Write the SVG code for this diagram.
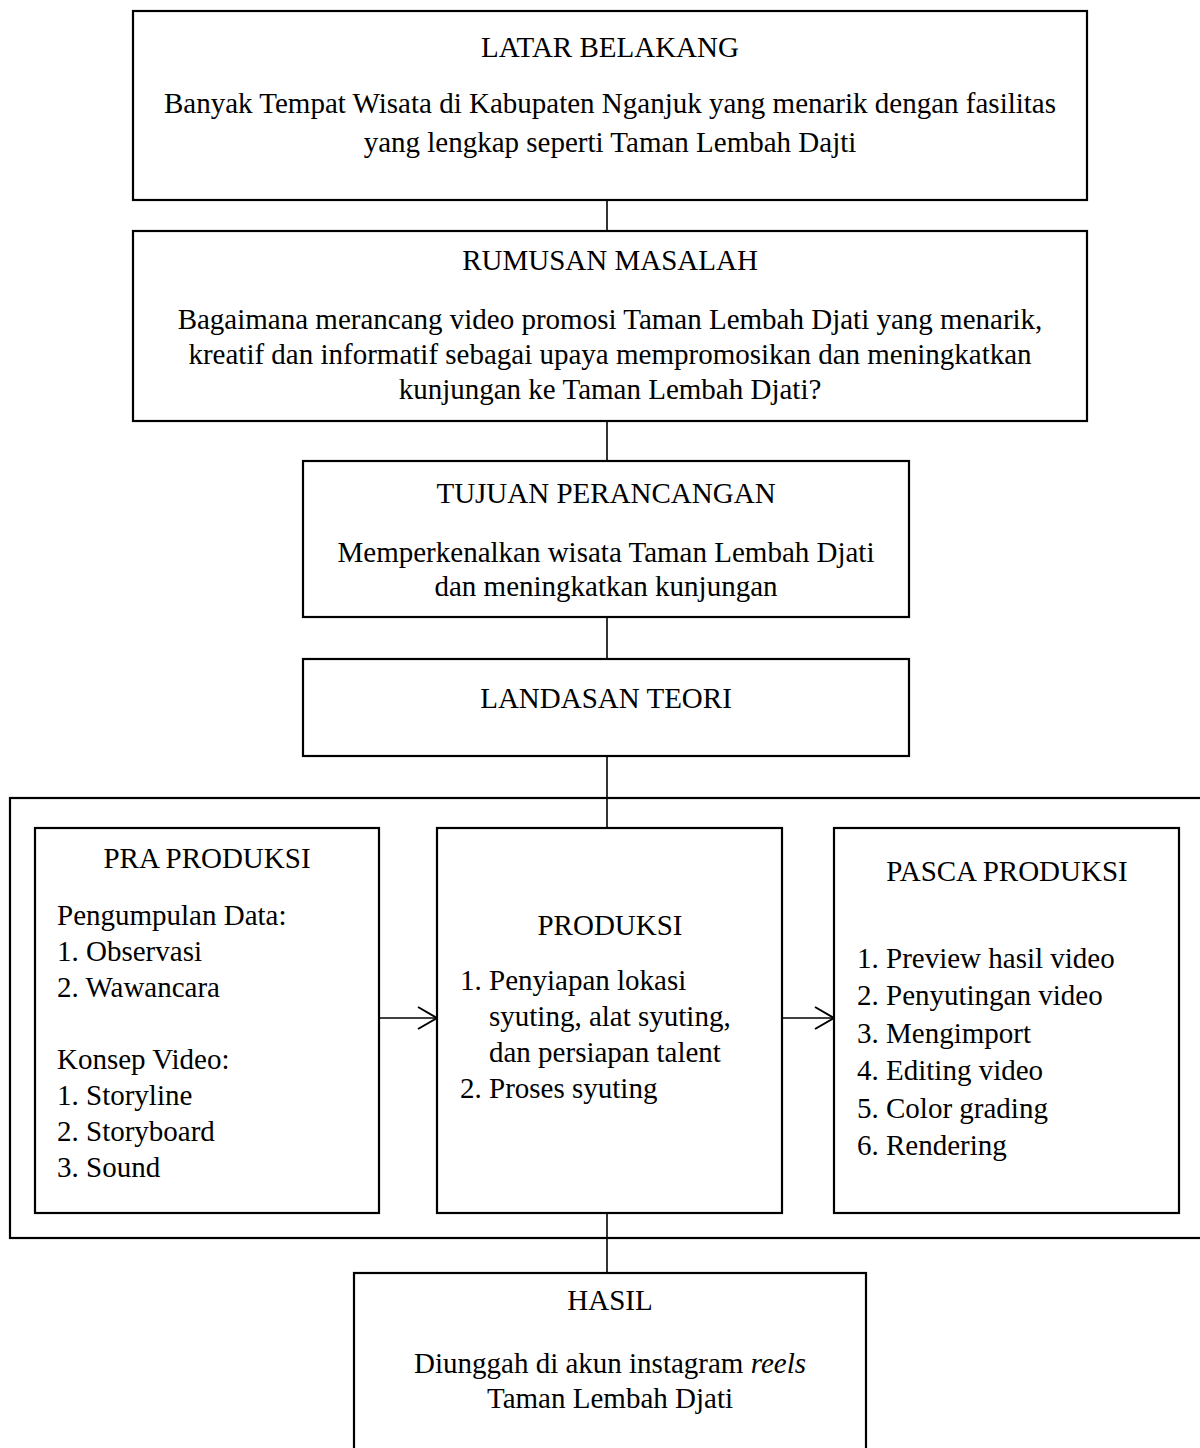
<svg xmlns="http://www.w3.org/2000/svg" width="1200" height="1448" viewBox="0 0 1200 1448">
<style>
.box{fill:#fff;stroke:#000;stroke-width:2.2}
.frame{fill:none;stroke:#000;stroke-width:2.2}
.t{font-family:"Liberation Serif","Times New Roman",serif;font-size:29px;fill:#000}
.c{text-anchor:middle}
.conn{stroke:#000;stroke-width:1.6;fill:none}
</style>
<defs>
<marker id="arr" markerWidth="24" markerHeight="26" refX="20" refY="12" orient="auto" markerUnits="userSpaceOnUse">
<path d="M1,1 L20,12 L1,23" fill="none" stroke="#000" stroke-width="2"/>
</marker>
</defs>
<rect x="0" y="0" width="1200" height="1448" fill="#fff"/>
<g id="frame-proses">
<rect class="frame" x="10" y="798" width="1210" height="440"/>
</g>
<g id="connectors">
<line class="conn" x1="607" y1="200" x2="607" y2="231"/>
<line class="conn" x1="607" y1="421" x2="607" y2="461"/>
<line class="conn" x1="607" y1="617" x2="607" y2="659"/>
<line class="conn" x1="607" y1="756" x2="607" y2="828"/>
<line class="conn" x1="607" y1="1213" x2="607" y2="1273"/>
<line class="conn" x1="379" y1="1018" x2="437" y2="1018" marker-end="url(#arr)"/>
<line class="conn" x1="782" y1="1018" x2="834" y2="1018" marker-end="url(#arr)"/>
</g>
<g id="latar-belakang">
<rect class="box" x="133" y="11" width="954" height="189"/>
<text class="t c" x="610" y="57">LATAR BELAKANG</text>
<text class="t c" x="610" y="113">Banyak Tempat Wisata di Kabupaten Nganjuk yang menarik dengan fasilitas</text>
<text class="t c" x="610" y="152">yang lengkap seperti Taman Lembah Dajti</text>
</g>
<g id="rumusan-masalah">
<rect class="box" x="133" y="231" width="954" height="190"/>
<text class="t c" x="610" y="270">RUMUSAN MASALAH</text>
<text class="t c" x="610" y="329">Bagaimana merancang video promosi Taman Lembah Djati yang menarik,</text>
<text class="t c" x="610" y="364">kreatif dan informatif sebagai upaya mempromosikan dan meningkatkan</text>
<text class="t c" x="610" y="399">kunjungan ke Taman Lembah Djati?</text>
</g>
<g id="tujuan-perancangan">
<rect class="box" x="303" y="461" width="606" height="156"/>
<text class="t c" x="606" y="503">TUJUAN PERANCANGAN</text>
<text class="t c" x="606" y="562">Memperkenalkan wisata Taman Lembah Djati</text>
<text class="t c" x="606" y="596">dan meningkatkan kunjungan</text>
</g>
<g id="landasan-teori">
<rect class="box" x="303" y="659" width="606" height="97"/>
<text class="t c" x="606" y="708">LANDASAN TEORI</text>
</g>
<g id="pra-produksi">
<rect class="box" x="35" y="828" width="344" height="385"/>
<text class="t c" x="207" y="868">PRA PRODUKSI</text>
<text class="t" x="57" y="925">Pengumpulan Data:</text>
<text class="t" x="57" y="961">1. Observasi</text>
<text class="t" x="57" y="997">2. Wawancara</text>
<text class="t" x="57" y="1069">Konsep Video:</text>
<text class="t" x="57" y="1105">1. Storyline</text>
<text class="t" x="57" y="1141">2. Storyboard</text>
<text class="t" x="57" y="1177">3. Sound</text>
</g>
<g id="produksi">
<rect class="box" x="437" y="828" width="345" height="385"/>
<text class="t c" x="610" y="935">PRODUKSI</text>
<text class="t" x="460" y="990">1. Penyiapan lokasi</text>
<text class="t" x="489" y="1026">syuting, alat syuting,</text>
<text class="t" x="489" y="1062">dan persiapan talent</text>
<text class="t" x="460" y="1098">2. Proses syuting</text>
</g>
<g id="pasca-produksi">
<rect class="box" x="834" y="828" width="345" height="385"/>
<text class="t c" x="1007" y="881">PASCA PRODUKSI</text>
<text class="t" x="857" y="968">1. Preview hasil video</text>
<text class="t" x="857" y="1005">2. Penyutingan video</text>
<text class="t" x="857" y="1043">3. Mengimport</text>
<text class="t" x="857" y="1080">4. Editing video</text>
<text class="t" x="857" y="1118">5. Color grading</text>
<text class="t" x="857" y="1155">6. Rendering</text>
</g>
<g id="hasil">
<rect class="box" x="354" y="1273" width="512" height="190"/>
<text class="t c" x="610" y="1310">HASIL</text>
<text class="t c" x="610" y="1373">Diunggah di akun instagram <tspan font-style="italic">reels</tspan></text>
<text class="t c" x="610" y="1408">Taman Lembah Djati</text>
</g>
</svg>
